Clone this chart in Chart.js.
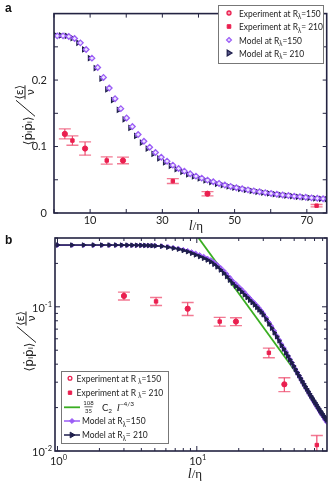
<!DOCTYPE html>
<html>
<head>
<title>pp correlation</title>
<script src="https://cdn.jsdelivr.net/npm/chart.js"></script>
<style>
  body { margin: 0; background: #fff; }
  canvas { position: absolute; left: 0; }
</style>
</head>
<body>
<canvas id="chartA" width="332" height="236" style="top:0"></canvas>
<canvas id="chartB" width="332" height="251" style="top:232px"></canvas>
<script>
// ---- dane ----
// eksperyment
const exp150L = [3.0, 8.6, 19.1, 42.5];
const exp150V = [0.119, 0.097, 0.079, 0.029];
const exp150Err = [0.0075, 0.010, 0.005, 0.0032];
const exp210L = [5.1, 14.6, 32.9, 72.7];
const exp210V = [0.109, 0.079, 0.048, 0.011];
const exp210Err = [0.007, 0.0055, 0.0037, 0.0018];

// panel a - model (skala liniowa)
const modelA210L = [0.3,1.9,3.5,5.1,6.7,8.3,9.9,11.5,13.1,14.7,16.3,17.9,19.5,21.1,22.7,24.3,25.9,27.5,29.1,30.7,32.3,33.9,35.5,37.1,38.7,40.3,41.9,43.5,45.1,46.7,48.3,49.9,51.5,53.1,54.7,56.3,57.9,59.5,61.1,62.7,64.3,65.9,67.5,69.1,70.7,72.3,73.9,75.5];
const modelA210V = [0.268,0.2672,0.2665,0.263,0.256,0.246,0.233,0.218,0.202,0.186,0.170,0.155,0.141,0.128,0.116,0.106,0.097,0.089,0.082,0.076,0.071,0.066,0.062,0.058,0.055,0.052,0.049,0.0465,0.044,0.042,0.040,0.038,0.0363,0.0347,0.0333,0.0319,0.0306,0.0294,0.0283,0.0272,0.0262,0.0253,0.0244,0.0236,0.0228,0.0221,0.0214,0.0207];
const modelA150L = [0.9,2.5,4.1,5.7,7.3,8.9,10.5,12.1,13.7,15.3,16.9,18.5,20.1,21.7,23.3,24.9,26.5,28.1,29.7,31.3,32.9,34.5,36.1,37.7,39.3,40.9,42.5,44.1,45.7,47.3,48.9,50.5,52.1,53.7,55.3,56.9,58.5,60.1,61.7,63.3,64.9,66.5,68.1,69.7,71.3,72.9,74.5];
const modelA150V = [0.2665,0.2665,0.2655,0.2625,0.256,0.246,0.233,0.219,0.204,0.188,0.172,0.157,0.143,0.130,0.118,0.108,0.099,0.091,0.084,0.078,0.072,0.067,0.063,0.059,0.0555,0.0525,0.0495,0.047,0.0445,0.042,0.040,0.038,0.0364,0.0348,0.0333,0.0319,0.0306,0.0294,0.0283,0.0272,0.0262,0.0253,0.0244,0.0236,0.0228,0.0221,0.0214];

// panel b - model (skala log-log)
const modelBL = [1.0,1.27,1.54,1.81,2.08,2.35,2.62,2.89,3.16,3.43,3.70,3.97,4.24,4.51,4.78,5.05,
  5.6,6.2,6.8,7.4,8.0,8.6,9.2,9.8,10.5,11.2,11.9,12.6,13.3,14.0,14.8,15.6,16.4,17.2,18.0,
  19,20,21,22,23,24,25,26,27,28,29,30,
  31.5,33,34.5,36,37.5,39,40.5,42,43.5,45,46.5,48,49.5,51,52.5,54,55.5,57,58.5,60,61.5,63,64.5,66,67.5,69,70.5,72,73.5,75,76.5,78,79.5,81,82.5,84,85.5];
const modelB210V = [0.268,0.268,0.268,0.268,0.268,0.268,0.268,0.2678,0.2677,0.2675,0.2672,0.2668,0.2664,0.2659,0.2653,0.2646,
  0.263,0.259,0.255,0.251,0.246,0.241,0.235,0.229,0.223,0.217,0.211,0.205,0.197,0.189,0.180,0.171,0.162,0.153,0.146,
  0.139,0.133,0.127,0.121,0.116,0.111,0.107,0.103,0.099,0.095,0.092,0.088,
  0.082,0.076,0.071,0.066,0.062,0.058,0.054,0.051,0.048,0.0455,0.043,0.041,0.0388,0.0368,0.035,0.0334,0.0319,0.0305,0.0292,0.028,0.0269,0.0259,0.0249,0.024,0.0232,0.0224,0.0217,0.021,0.0203,0.0197,0.0191,0.0186,0.0181,0.0176,0.0172,0.0168,0.0164];
const modelB150V = [0.2675,0.2675,0.2675,0.2675,0.2675,0.2675,0.2675,0.2674,0.2673,0.2672,0.267,0.2667,0.2664,0.266,0.2655,0.265,
  0.264,0.261,0.257,0.253,0.249,0.245,0.240,0.235,0.229,0.223,0.217,0.211,0.204,0.196,0.187,0.178,0.169,0.160,0.152,
  0.145,0.138,0.132,0.126,0.120,0.115,0.110,0.106,0.102,0.098,0.094,0.090,
  0.084,0.078,0.073,0.068,0.063,0.059,0.055,0.052,0.049,0.046,0.0435,0.0412,0.039,0.037,0.0352,0.0335,0.032,0.0305,0.0292,0.028,0.0268,0.0257,0.0247,0.0238,0.0229,0.0221,0.0214,0.0207,0.02,0.0194,0.0188,0.0182,0.0177,0.0172,0.0167,0.0163,0.0159];
// prosta 108/35 C2 l^-4/3 (dwa punkty końcowe)
const lawL = [10.3, 61.4];
const lawV = [0.30, 0.0278];

// podzialki
const xTicksA = [0,10,20,30,40,50,60,70];
const xLabelsA = [10,30,50,70];
const yTicksA = [0,0.05,0.1,0.15,0.2,0.25];
const yLabelsA = [0,0.1,0.2];
const xTicksB = [1,2,3,4,5,6,7,8,9,10,20,30,40,50,60,70,80];
const xLabelsB = [[1,'0'],[10,'1']];
const yTicksB = [0.01,0.02,0.03,0.04,0.05,0.06,0.07,0.08,0.09,0.1,0.2,0.3];
const yLabelsB = [[0.01,'-2'],[0.1,'-1']];

// ---- kolory ----
const RED = '#ea1f4f', PINK = '#f27a93', PURPLE = '#9b5cf6', NAVY = '#1e1e4c', GREEN = '#3aae22', FRAME = '#232342', TXT = '#222';
const SANS = 'Lato, "Open Sans", sans-serif';

function pts(xs, ys) { return xs.map((x, i) => ({x: x, y: ys[i]})); }
function near(a, b) { return Math.abs(a - b) < 1e-9; }

// tekst z indeksami: parts = [tekst, rozmiar, przesuniecie, styl, rodzina]
function runsWidth(ctx, parts) {
  let w = 0;
  parts.forEach(p => { ctx.font = (p[3] || '') + ' ' + p[1] + 'px ' + (p[4] || SANS); w += ctx.measureText(p[0]).width; });
  return w;
}
function runs(ctx, x, y, parts, align) {
  const w = runsWidth(ctx, parts);
  if (align === 'center') x -= w / 2;
  if (align === 'right') x -= w;
  ctx.textAlign = 'left'; ctx.textBaseline = 'alphabetic';
  parts.forEach(p => {
    ctx.font = (p[3] || '') + ' ' + p[1] + 'px ' + (p[4] || SANS);
    ctx.fillText(p[0], x, y + (p[2] || 0));
    x += ctx.measureText(p[0]).width;
  });
  return w;
}

function mark(ctx, style, x, y, r, fill, stroke, lw) {
  ctx.beginPath();
  if (style === 'circle') ctx.arc(x, y, r, 0, Math.PI * 2);
  else if (style === 'rect') ctx.rect(x - r, y - r, 2 * r, 2 * r);
  else if (style === 'rectRot') { ctx.moveTo(x, y - r * 1.3); ctx.lineTo(x + r * 1.3, y); ctx.lineTo(x, y + r * 1.3); ctx.lineTo(x - r * 1.3, y); ctx.closePath(); }
  else if (style === 'tri') { ctx.moveTo(x + r, y); ctx.lineTo(x - r * 0.6, y - r * 0.95); ctx.lineTo(x - r * 0.6, y + r * 0.95); ctx.closePath(); }
  ctx.fillStyle = fill; ctx.fill();
  ctx.strokeStyle = stroke; ctx.lineWidth = lw; ctx.stroke();
}

// slupki bledow
const errBars = {
  id: 'errBars',
  beforeDatasetsDraw(chart, args, opts) {
    const ctx = chart.ctx, xs = chart.scales.x, ys = chart.scales.y, a = chart.chartArea;
    ctx.save();
    ctx.beginPath(); ctx.rect(a.left, a.top, a.right - a.left, a.bottom - a.top); ctx.clip();
    opts.sets.forEach(s => {
      const ds = chart.data.datasets[s.ds];
      ds.data.forEach((p, i) => {
        const x = xs.getPixelForValue(p.x);
        const y1 = ys.getPixelForValue(p.y + s.err[i]);
        const y2 = ys.getPixelForValue(p.y - s.err[i]);
        ctx.strokeStyle = PINK; ctx.lineWidth = 1.4;
        ctx.beginPath();
        ctx.moveTo(x - 6, y1); ctx.lineTo(x + 6, y1);
        ctx.moveTo(x - 6, y2); ctx.lineTo(x + 6, y2);
        ctx.stroke();
        ctx.strokeStyle = '#ef4d70'; ctx.lineWidth = 1.2;
        ctx.beginPath(); ctx.moveTo(x, y1); ctx.lineTo(x, y2); ctx.stroke();
      });
    });
    ctx.restore();
  }
};

// ramka i podzialki do srodka
const frame = {
  id: 'frame',
  afterDraw(chart, args, opts) {
    const ctx = chart.ctx, a = chart.chartArea, xs = chart.scales.x, ys = chart.scales.y;
    ctx.save();
    ctx.strokeStyle = FRAME; ctx.lineWidth = 1;
    ctx.beginPath();
    xs.ticks.forEach(t => {
      const px = xs.getPixelForValue(t.value);
      const len = opts.isMajorX(t.value) ? opts.major : opts.minor;
      ctx.moveTo(px, a.bottom); ctx.lineTo(px, a.bottom - len);
      ctx.moveTo(px, a.top); ctx.lineTo(px, a.top + len);
    });
    ys.ticks.forEach(t => {
      const py = ys.getPixelForValue(t.value);
      const len = opts.isMajorY(t.value) ? opts.major : opts.minor;
      ctx.moveTo(a.left, py); ctx.lineTo(a.left + len, py);
      ctx.moveTo(a.right, py); ctx.lineTo(a.right - len, py);
    });
    ctx.stroke();
    ctx.lineWidth = 1.6;
    ctx.strokeRect(a.left, a.top, a.right - a.left, a.bottom - a.top);
    ctx.restore();
  }
};

function yTitle(ctx, cx, cy) {
  ctx.save();
  ctx.translate(cx, cy); ctx.rotate(-Math.PI / 2);
  ctx.fillStyle = TXT; ctx.strokeStyle = TXT; ctx.lineWidth = 1;
  ctx.font = '12px "DejaVu Sans"'; ctx.textAlign = 'right'; ctx.textBaseline = 'alphabetic';
  ctx.fillText('\u27E8\u1E57\u1D62\u1E57\u1D62\u27E9', -2, 5);
  ctx.beginPath(); ctx.moveTo(-2, 8); ctx.lineTo(14, -11); ctx.stroke();
  ctx.textAlign = 'center'; ctx.font = '11px "DejaVu Sans"';
  ctx.fillText('\u27E8\u03B5\u27E9', 22, -4);
  ctx.beginPath(); ctx.moveTo(15, -2); ctx.lineTo(29, -2); ctx.stroke();
  ctx.fillText('\u03BD', 22, 7);
  ctx.restore();
}

function xTitle(ctx, cx, y) {
  ctx.fillStyle = TXT;
  runs(ctx, cx, y, [['l', 14, 0, 'italic', '"Liberation Serif"'], ['/\u03B7', 13, 0, '', '"Liberation Serif"']], 'center');
}

// wiersz legendy, sciesniony w poziomie (sx)
function legendRow(ctx, x, y, sub, rest, size, sx) {
  ctx.save();
  ctx.translate(x, y); ctx.scale(sx, 1);
  ctx.fillStyle = TXT;
  runs(ctx, 0, 0, [[sub[0], size], [sub[1], size * 0.7, 2.5], [rest, size]]);
  ctx.restore();
}
function squeeze(ctx, text, size, target) {
  return target / runsWidth(ctx, [[text, size]]);
}

// ---- panel a ----
const annotA = {
  id: 'annotA',
  afterDraw(chart) {
    const ctx = chart.ctx, a = chart.chartArea;
    ctx.save();
    ctx.fillStyle = '#111'; ctx.font = 'bold 12px "Liberation Sans"'; ctx.textAlign = 'left';
    ctx.fillText('a', 5, 12);
    yTitle(ctx, 27, (a.top + a.bottom) / 2 + 1);
    xTitle(ctx, 196, 230);
    // legenda
    ctx.fillStyle = '#fff'; ctx.strokeStyle = '#777'; ctx.lineWidth = 1;
    ctx.fillRect(218.5, 5.5, 105, 58); ctx.strokeRect(218.5, 5.5, 105, 58);
    const rows = [13, 26.5, 40, 53];
    mark(ctx, 'circle', 229, rows[0], 2, '#f7a0b4', RED, 1.3);
    mark(ctx, 'rect', 229, rows[1], 1.8, RED, RED, 1);
    mark(ctx, 'rectRot', 229, rows[2], 1.9, '#e6dbff', PURPLE, 1.2);
    mark(ctx, 'tri', 229, rows[3], 3, '#5a5a8a', NAVY, 1.2);
    const sx = squeeze(ctx, 'Experiment at R\u03BB=150', 10, 83);
    legendRow(ctx, 239, rows[0] + 3.5, ['Experiment at R', '\u03BB'], '=150', 10, sx);
    legendRow(ctx, 239, rows[1] + 3.5, ['Experiment at R', '\u03BB'], '= 210', 10, sx);
    legendRow(ctx, 239, rows[2] + 3.5, ['Model at R', '\u03BB'], '=150', 10, sx);
    legendRow(ctx, 239, rows[3] + 3.5, ['Model at R', '\u03BB'], '= 210', 10, sx);
    ctx.restore();
  }
};

new Chart(document.getElementById('chartA'), {
  type: 'scatter',
  data: {
    datasets: [
      { label: 'Experiment at R\u03BB=150', data: pts(exp150L, exp150V), pointStyle: 'circle', pointRadius: 2.6, pointBackgroundColor: RED, pointBorderColor: RED, pointBorderWidth: 1 },
      { label: 'Experiment at R\u03BB= 210', data: pts(exp210L, exp210V), pointStyle: 'rect', pointRadius: 2.4, pointBackgroundColor: RED, pointBorderColor: RED, pointBorderWidth: 1 },
      { label: 'Model at R\u03BB=150', data: pts(modelA150L, modelA150V), pointStyle: 'rectRot', pointRadius: 2.8, pointBackgroundColor: '#ece3ff', pointBorderColor: PURPLE, pointBorderWidth: 1.3 },
      { label: 'Model at R\u03BB= 210', data: pts(modelA210L, modelA210V), pointStyle: 'triangle', pointRotation: 90, pointRadius: 2.7, pointBackgroundColor: '#8080aa', pointBorderColor: NAVY, pointBorderWidth: 1.2 }
    ]
  },
  options: {
    responsive: false, animation: false, devicePixelRatio: 1,
    layout: { padding: { left: 0, right: 4, top: 2, bottom: 0 } },
    plugins: {
      legend: { display: false }, tooltip: { enabled: false },
      errBars: { sets: [{ ds: 0, err: exp150Err }, { ds: 1, err: exp210Err }] },
      frame: { major: 4, minor: 4, isMajorX: () => true, isMajorY: () => true }
    },
    scales: {
      x: {
        type: 'linear', min: 0, max: 75.5,
        grid: { display: false, drawTicks: false }, border: { display: false },
        afterFit(s) { s.height = 23; },
        afterBuildTicks(s) { s.ticks = xTicksA.map(v => ({ value: v })); },
        ticks: { autoSkip: false, maxRotation: 0, padding: 1, color: TXT, font: { family: SANS, size: 11 },
          callback: v => xLabelsA.some(l => near(l, v)) ? String(v) : '' }
      },
      y: {
        type: 'linear', min: 0, max: 0.3,
        grid: { display: false, drawTicks: false }, border: { display: false },
        afterFit(s) { s.width = 54; },
        afterBuildTicks(s) { s.ticks = yTicksA.map(v => ({ value: v })); },
        ticks: { autoSkip: false, padding: 7, color: TXT, font: { family: SANS, size: 11 },
          callback: v => yLabelsA.some(l => near(l, v)) ? String(Math.round(v * 10) / 10) : '' }
      }
    }
  },
  plugins: [errBars, frame, annotA]
});

// ---- panel b ----
const annotB = {
  id: 'annotB',
  afterDraw(chart) {
    const ctx = chart.ctx, a = chart.chartArea, xs = chart.scales.x, ys = chart.scales.y;
    ctx.save();
    ctx.fillStyle = '#111'; ctx.font = 'bold 12px "Liberation Sans"'; ctx.textAlign = 'left';
    ctx.fillText('b', 5, 12);
    // etykiety potegowe
    ctx.fillStyle = TXT;
    xLabelsB.forEach(l => {
      runs(ctx, xs.getPixelForValue(l[0]) + 1, a.bottom + 14, [['10', 11], [l[1], 7.5, -5]], 'center');
    });
    yLabelsB.forEach(l => {
      runs(ctx, a.left - 3, ys.getPixelForValue(l[0]) + 5, [['10', 11], [l[1], 7.5, -5]], 'right');
    });
    yTitle(ctx, 28, (a.top + a.bottom) / 2 - 4);
    xTitle(ctx, 195, 246);
    // legenda
    ctx.fillStyle = '#fff'; ctx.strokeStyle = '#777'; ctx.lineWidth = 1;
    ctx.fillRect(61.5, 139.5, 107, 72); ctx.strokeRect(61.5, 139.5, 107, 72);
    const rows = [146.3, 160.7, 175.3, 189, 203];
    mark(ctx, 'circle', 70, rows[0], 1.9, '#fff', RED, 1.3);
    mark(ctx, 'rect', 70, rows[1], 1.7, RED, RED, 1);
    ctx.strokeStyle = GREEN; ctx.lineWidth = 1.8;
    ctx.beginPath(); ctx.moveTo(64, rows[2]); ctx.lineTo(80, rows[2]); ctx.stroke();
    ctx.strokeStyle = PURPLE; ctx.lineWidth = 1.5;
    ctx.beginPath(); ctx.moveTo(64, rows[3]); ctx.lineTo(80, rows[3]); ctx.stroke();
    mark(ctx, 'rectRot', 72, rows[3], 1.9, PURPLE, PURPLE, 1);
    ctx.strokeStyle = NAVY; ctx.lineWidth = 1.5;
    ctx.beginPath(); ctx.moveTo(64, rows[4]); ctx.lineTo(80, rows[4]); ctx.stroke();
    mark(ctx, 'tri', 72, rows[4], 3, NAVY, NAVY, 1);
    const sx = squeeze(ctx, 'Experiment at R \u03BB=150', 9.5, 86);
    legendRow(ctx, 76.5, rows[0] + 3.2, ['Experiment at R ', '\u03BB'], '=150', 9.5, sx);
    legendRow(ctx, 76.5, rows[1] + 3.2, ['Experiment at R ', '\u03BB'], '= 210', 9.5, sx);
    // 108/35 C2 l^-4/3
    ctx.fillStyle = TXT; ctx.textAlign = 'center';
    ctx.font = '6px ' + SANS;
    ctx.fillText('108', 88.5, rows[2] - 2);
    ctx.fillText('35', 88.5, rows[2] + 6);
    ctx.strokeStyle = TXT; ctx.lineWidth = 0.7;
    ctx.beginPath(); ctx.moveTo(84.5, rows[2] - 0.5); ctx.lineTo(92.5, rows[2] - 0.5); ctx.stroke();
    runs(ctx, 102, rows[2] + 3.5, [['C', 9.5], ['2', 6.5, 2.5], ['  ', 9], ['l', 11, 0, 'italic', '"Liberation Serif"'], ['\u22124/3', 6.5, -4.5]]);
    legendRow(ctx, 82, rows[3] + 3.2, ['Model at R', '\u03BB'], '=150', 9.5, sx);
    legendRow(ctx, 82, rows[4] + 3.2, ['Model at R', '\u03BB'], '= 210', 9.5, sx);
    ctx.restore();
  }
};

new Chart(document.getElementById('chartB'), {
  type: 'scatter',
  data: {
    datasets: [
      { label: 'Experiment at R\u03BB=150', data: pts(exp150L, exp150V), pointStyle: 'circle', pointRadius: 2.6, pointBackgroundColor: RED, pointBorderColor: RED, pointBorderWidth: 1 },
      { label: 'Experiment at R\u03BB= 210', data: pts(exp210L, exp210V), pointStyle: 'rect', pointRadius: 2.4, pointBackgroundColor: RED, pointBorderColor: RED, pointBorderWidth: 1 },
      { label: 'Model at R\u03BB= 210', data: pts(modelBL, modelB210V), showLine: true, borderColor: NAVY, borderWidth: 1.6,
        pointStyle: 'triangle', pointRotation: 90, pointRadius: 2.6, pointBackgroundColor: NAVY, pointBorderColor: NAVY, pointBorderWidth: 1 },
      { label: 'Model at R\u03BB=150', data: pts(modelBL, modelB150V), showLine: true, borderColor: PURPLE, borderWidth: 1.6,
        pointStyle: 'rectRot', pointRadius: 2.3, pointBackgroundColor: PURPLE, pointBorderColor: PURPLE, pointBorderWidth: 1 },
      { label: '108/35 C2 l^-4/3', data: pts(lawL, lawV), showLine: true, borderColor: GREEN, borderWidth: 1.8, pointRadius: 0 }
    ]
  },
  options: {
    responsive: false, animation: false, devicePixelRatio: 1,
    layout: { padding: { left: 0, right: 2, top: 6, bottom: 0 } },
    plugins: {
      legend: { display: false }, tooltip: { enabled: false },
      errBars: { sets: [{ ds: 0, err: exp150Err }, { ds: 1, err: exp210Err }] },
      frame: { major: 5, minor: 3,
        isMajorX: v => xLabelsB.some(l => near(l[0], v)),
        isMajorY: v => yLabelsB.some(l => near(l[0], v)) }
    },
    scales: {
      x: {
        type: 'logarithmic', min: 0.96, max: 86,
        grid: { display: false, drawTicks: false }, border: { display: false },
        afterFit(s) { s.height = 32; },
        afterBuildTicks(s) { s.ticks = xTicksB.map(v => ({ value: v })); },
        ticks: { display: false }
      },
      y: {
        type: 'logarithmic', min: 0.01, max: 0.3,
        grid: { display: false, drawTicks: false }, border: { display: false },
        afterFit(s) { s.width = 55; },
        afterBuildTicks(s) { s.ticks = yTicksB.map(v => ({ value: v })); },
        ticks: { display: false }
      }
    }
  },
  plugins: [errBars, frame, annotB]
});
</script>
</body>
</html>
